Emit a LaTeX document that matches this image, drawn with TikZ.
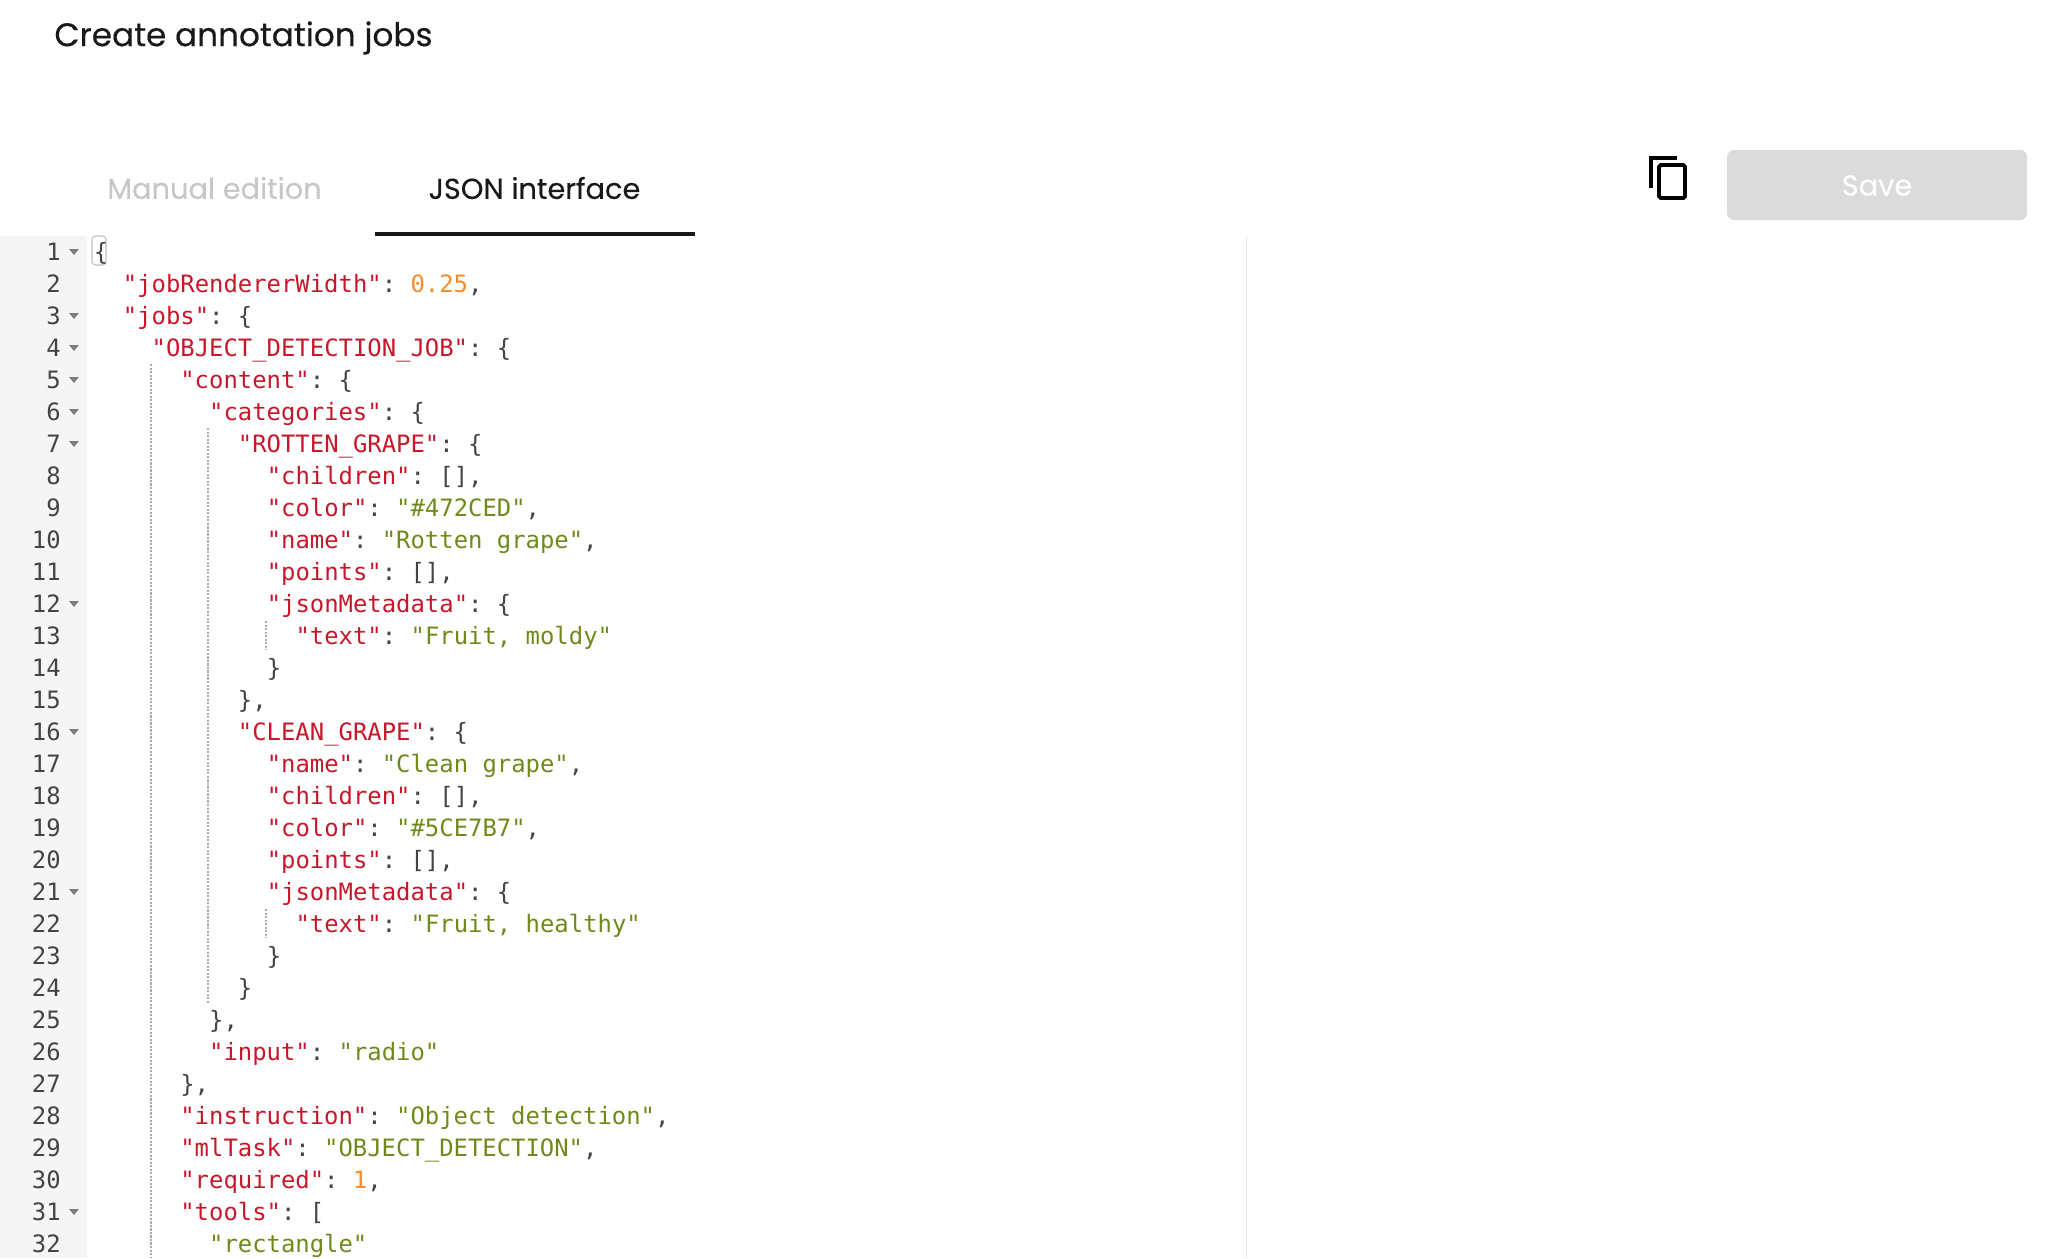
\documentclass[tikz,border=0pt]{standalone}
\usepackage{fontspec}
\setmainfont{Poppins}[FakeBold=0.25]
\setmonofont{DejaVu Sans Mono}

\definecolor{keyred}{HTML}{C7172B}
\definecolor{strgreen}{HTML}{6F8A1A}
\definecolor{numorange}{HTML}{F98A2C}
\definecolor{punctgray}{HTML}{444444}
\definecolor{guidegray}{HTML}{ABABAB}

\newcommand{\jkey}[1]{\textcolor{keyred}{#1}}
\newcommand{\jstr}[1]{\textcolor{strgreen}{#1}}
\newcommand{\jnum}[1]{\textcolor{numorange}{#1}}

\tikzset{
  codeline/.style={anchor=base west, inner sep=0pt, text=punctgray, font=\ttfamily\fontsize{13.6}{16}\selectfont},
  linenum/.style={anchor=base east, inner sep=0pt, text=punctgray, font=\ttfamily\fontsize{13.6}{16}\selectfont},
  tablabel/.style={anchor=center, inner sep=0pt, font=\fontsize{16.4}{19}\selectfont},
  titlelabel/.style={anchor=center, inner sep=0pt, font=\fontsize{18.6}{22}\selectfont},
  guide/.style={guidegray, dash pattern=on 1.2pt off 0.8pt, line width=0.6pt}
}

\begin{document}
\begin{tikzpicture}[x=0.02cm, y=-0.02cm]
\useasboundingbox (0,0) rectangle (2072,1258);

% HEADER

% Title
\node[titlelabel, text=black!90] (title) at (243.5,38) {Create annotation jobs};

% Tabs
\node[tablabel, text=black!22] (manualtab) at (214.5,188) {Manual edition};
\node[tablabel, text=black!90] (jsontab) at (534.5,188) {JSON interface};
\fill[black!90] (375,232) rectangle (695,236);

% Copy icon
\draw[black, line width=2.2pt] (1651,187.5) -- (1651,158) -- (1677,158);
\draw[black, line width=2.2pt, rounded corners=1pt] (1659,165) rectangle (1685,198);

% Save button
\fill[black!14, rounded corners=4pt] (1727,150) rectangle (2027,220);
\node[tablabel, text=white] (savebtn) at (1877,185.5) {Save};

% EDITOR

% Gutter and print margin
\fill[black!4] (0,236) rectangle (87,1258);
\draw[black!8, line width=0.5pt] (1246,236) -- (1246,1258);

% Line numbers
\foreach \n in {1,...,32}
  \node[linenum] (num\n) at (61,{228+32*\n}) {\n};

% Fold markers
\foreach \n in {1,3,4,5,6,7,12,16,21,31}
  \fill[black!50] (69,{217+32*\n}) -- (79,{217+32*\n}) -- (74,{223+32*\n}) -- cycle;

% Indent guides
\draw[guide] (151,364) -- (151,1258);
\draw[guide] (208,428) -- (208,1004);
\draw[guide] (266,621) -- (266,650);
\draw[guide] (266,909) -- (266,938);

% Bracket highlight
\draw[black!25, line width=0.6pt, rounded corners=2pt] (92,236) rectangle (106,265);

% Code lines
\node[codeline] (line1) at (93.5,260) {\{};
\node[codeline] (line2) at (122.5,292) {\jkey{"jobRendererWidth"}: \jnum{0.25},};
\node[codeline] (line3) at (122.5,324) {\jkey{"jobs"}: \{};
\node[codeline] (line4) at (151.3,356) {\jkey{"OBJECT\_DETECTION\_JOB"}: \{};
\node[codeline] (line5) at (180,388) {\jkey{"content"}: \{};
\node[codeline] (line6) at (208.8,420) {\jkey{"categories"}: \{};
\node[codeline] (line7) at (237.6,452) {\jkey{"ROTTEN\_GRAPE"}: \{};
\node[codeline] (line8) at (266.4,484) {\jkey{"children"}: [],};
\node[codeline] (line9) at (266.4,516) {\jkey{"color"}: \jstr{"\#472CED"},};
\node[codeline] (line10) at (266.4,548) {\jkey{"name"}: \jstr{"Rotten grape"},};
\node[codeline] (line11) at (266.4,580) {\jkey{"points"}: [],};
\node[codeline] (line12) at (266.4,612) {\jkey{"jsonMetadata"}: \{};
\node[codeline] (line13) at (295.2,644) {\jkey{"text"}: \jstr{"Fruit, moldy"}};
\node[codeline] (line14) at (266.4,676) {\}};
\node[codeline] (line15) at (237.6,708) {\},};
\node[codeline] (line16) at (237.6,740) {\jkey{"CLEAN\_GRAPE"}: \{};
\node[codeline] (line17) at (266.4,772) {\jkey{"name"}: \jstr{"Clean grape"},};
\node[codeline] (line18) at (266.4,804) {\jkey{"children"}: [],};
\node[codeline] (line19) at (266.4,836) {\jkey{"color"}: \jstr{"\#5CE7B7"},};
\node[codeline] (line20) at (266.4,868) {\jkey{"points"}: [],};
\node[codeline] (line21) at (266.4,900) {\jkey{"jsonMetadata"}: \{};
\node[codeline] (line22) at (295.2,932) {\jkey{"text"}: \jstr{"Fruit, healthy"}};
\node[codeline] (line23) at (266.4,964) {\}};
\node[codeline] (line24) at (237.6,996) {\}};
\node[codeline] (line25) at (208.8,1028) {\},};
\node[codeline] (line26) at (208.8,1060) {\jkey{"input"}: \jstr{"radio"}};
\node[codeline] (line27) at (180,1092) {\},};
\node[codeline] (line28) at (180,1124) {\jkey{"instruction"}: \jstr{"Object detection"},};
\node[codeline] (line29) at (180,1156) {\jkey{"mlTask"}: \jstr{"OBJECT\_DETECTION"},};
\node[codeline] (line30) at (180,1188) {\jkey{"required"}: \jnum{1},};
\node[codeline] (line31) at (180,1220) {\jkey{"tools"}: [};
\node[codeline] (line32) at (208.8,1252) {\jstr{"rectangle"}};

\end{tikzpicture}
\end{document}
